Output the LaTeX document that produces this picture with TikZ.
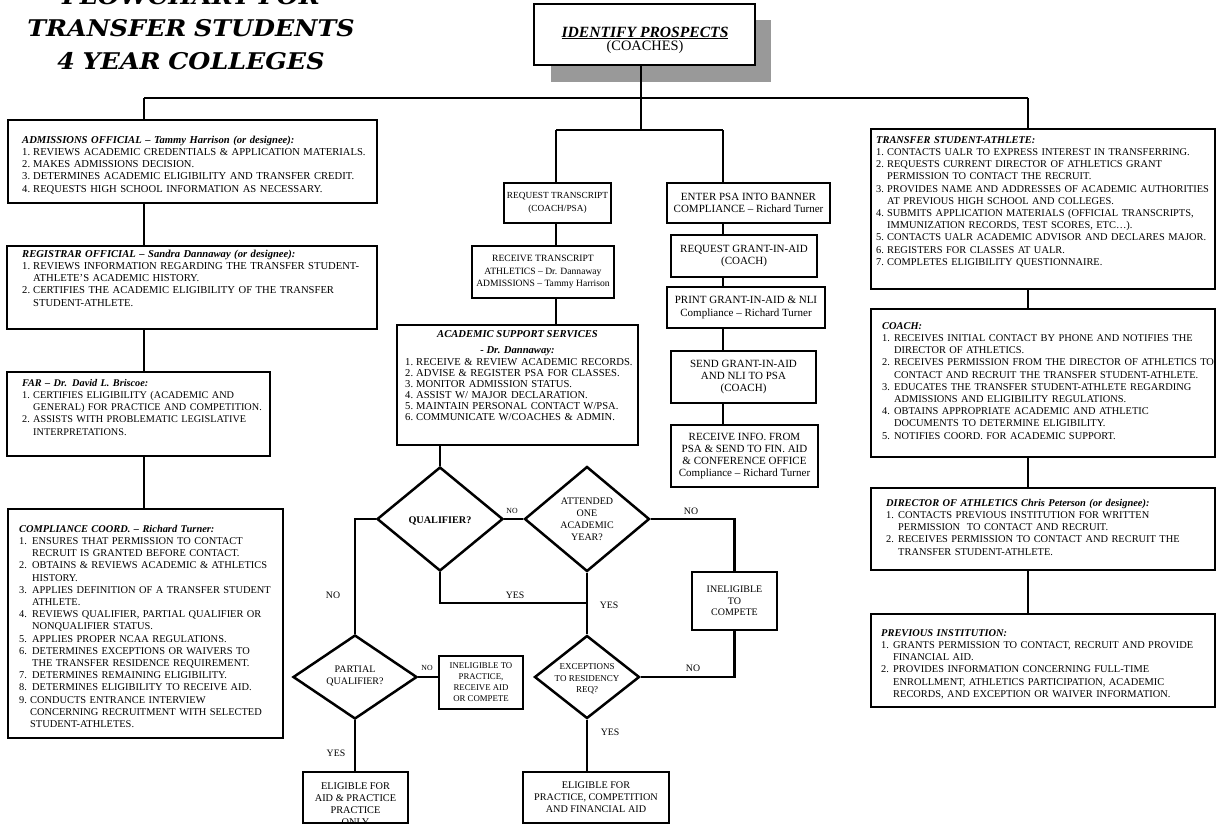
\documentclass[tikz,border=0pt]{standalone}
\usepackage{fontspec}
\setmainfont{Liberation Serif}
\newfontfamily\titlefont[FakeStretch=1.1]{DejaVu Serif}
\usetikzlibrary{shapes.geometric}

% first-line strut of fixed height, so a text block's top edge is its first baseline minus 8pt
\newcommand\fl{\rule{0pt}{8pt}}
\newlength\itmind
\newcommand\hd[1]{\noindent\fl\textbf{\textit{#1}}}
% numbered item with hanging indent; continuation lines are broken with \newline
\newcommand\itm[2]{\par\noindent\hangindent=\itmind\hangafter=1\makebox[\itmind][l]{#1}#2}
% rectangle node from its two corners
\newcommand\rect[6][]{\node[bx,#1,minimum width={#5-#3},minimum height={#6-#4}] (#2) at ({(#3+#5)/2},{(#4+#6)/2})}

\begin{document}
\begin{tikzpicture}[x=1pt,y=-1pt,
  bx/.style={draw,line width=2.6pt,inner sep=0pt,fill=white,align=center},
  conn/.style={line width=2.4pt},
  lst/.style={anchor=north west,inner sep=0pt,text width=345pt,align=left,font=\fontsize{10.6}{12.2}\selectfont},
  rlst/.style={lst,font=\fontsize{10.4}{12.2}\selectfont},
  mid/.style={font=\fontsize{9.3}{12.5}\selectfont},
  gia/.style={font=\fontsize{11}{12.5}\selectfont},
  dia/.style={draw,diamond,line width=2.5pt,inner sep=0pt,fill=white},
  dtxt/.style={inner sep=0pt,align=center},
  lab/.style={inner sep=0pt,font=\fontsize{9.8}{12}\selectfont},
  slab/.style={inner sep=0pt,font=\fontsize{7.8}{10}\selectfont}]
\clip (0,0) rectangle (1217,831);
\fill[white] (0,0) rectangle (1217,831);

% title
\node[anchor=north,inner sep=0pt,align=center,text width=420pt,
      font=\titlefont\bfseries\itshape\fontsize{23}{32.5}\selectfont] (title) at (191,-13)
  {\rule{0pt}{17pt}FLOWCHART FOR\\TRANSFER STUDENTS\\4 YEAR COLLEGES};

% top box with its drop shadow
\fill[gray!80] (551,20) rectangle (771,82);
\rect{top}{534}{4}{755}{65} {};
\node[inner sep=0pt,align=center,font=\fontsize{14.4}{13}\selectfont] (topT) at (645,40)
  {{\fontsize{15.6}{13}\selectfont\underline{\textbf{\textit{IDENTIFY PROSPECTS}}}}\\(COACHES)};

% left column
\rect{adm}{8}{120}{377}{203} {};
\rect{reg}{7}{246}{377}{329} {};
\rect{far}{7}{372}{270}{456} {};
\rect{cmp}{8}{509}{283}{738} {};

\node[lst] (admT) at (22,135) {\setlength\itmind{11pt}%
\hd{ADMISSIONS OFFICIAL – Tammy Harrison (or designee):}
\itm{1.}{REVIEWS ACADEMIC CREDENTIALS \& APPLICATION MATERIALS.}
\itm{2.}{MAKES ADMISSIONS DECISION.}
\itm{3.}{DETERMINES ACADEMIC ELIGIBILITY AND TRANSFER CREDIT.}
\itm{4.}{REQUESTS HIGH SCHOOL INFORMATION AS NECESSARY.}\par};

\node[lst] (regT) at (22,249) {\setlength\itmind{11pt}%
\hd{REGISTRAR OFFICIAL – Sandra Dannaway (or designee):}
\itm{1.}{REVIEWS INFORMATION REGARDING THE TRANSFER STUDENT-\newline ATHLETE’S ACADEMIC HISTORY.}
\itm{2.}{CERTIFIES THE ACADEMIC ELIGIBILITY OF THE TRANSFER\newline STUDENT-ATHLETE.}\par};

\node[lst,font=\fontsize{10.25}{12.2}\selectfont] (farT) at (22,378) {\setlength\itmind{11pt}%
\hd{FAR – Dr. David L. Briscoe:}
\itm{1.}{CERTIFIES ELIGIBILITY (ACADEMIC AND\newline GENERAL) FOR PRACTICE AND COMPETITION.}
\itm{2.}{ASSISTS WITH PROBLEMATIC LEGISLATIVE\newline INTERPRETATIONS.}\par};

\node[lst,font=\fontsize{10.4}{12.2}\selectfont] (cmpT) at (19,524) {\setlength\itmind{13pt}%
\hd{COMPLIANCE COORD. – Richard Turner:}
\itm{1.}{ENSURES THAT PERMISSION TO CONTACT\newline RECRUIT IS GRANTED BEFORE CONTACT.}
\itm{2.}{OBTAINS \& REVIEWS ACADEMIC \& ATHLETICS\newline HISTORY.}
\itm{3.}{APPLIES DEFINITION OF A TRANSFER STUDENT\newline ATHLETE.}
\itm{4.}{REVIEWS QUALIFIER, PARTIAL QUALIFIER OR\newline NONQUALIFIER STATUS.}
\itm{5.}{APPLIES PROPER NCAA REGULATIONS.}
\itm{6.}{DETERMINES EXCEPTIONS OR WAIVERS TO\newline THE TRANSFER RESIDENCE REQUIREMENT.}
\itm{7.}{DETERMINES REMAINING ELIGIBILITY.}
\itm{8.}{DETERMINES ELIGIBILITY TO RECEIVE AID.}
\par\setlength\itmind{11pt}%
\itm{9.}{CONDUCTS ENTRANCE INTERVIEW\newline CONCERNING RECRUITMENT WITH SELECTED\newline STUDENT-ATHLETES.}\par};

% right column
\rect{tsa}{871}{129}{1215}{289} {};
\rect{coach}{871}{309}{1215}{457} {};
\rect{dir}{871}{488}{1215}{570} {};
\rect{prev}{871}{614}{1215}{707} {};

\node[rlst] (tsaT) at (876,135) {\setlength\itmind{11pt}%
\hd{TRANSFER STUDENT-ATHLETE:}
\itm{1.}{CONTACTS UALR TO EXPRESS INTEREST IN TRANSFERRING.}
\itm{2.}{REQUESTS CURRENT DIRECTOR OF ATHLETICS GRANT\newline PERMISSION TO CONTACT THE RECRUIT.}
\itm{3.}{PROVIDES NAME AND ADDRESSES OF ACADEMIC AUTHORITIES\newline AT PREVIOUS HIGH SCHOOL AND COLLEGES.}
\itm{4.}{SUBMITS APPLICATION MATERIALS (OFFICIAL TRANSCRIPTS,\newline IMMUNIZATION RECORDS, TEST SCORES, ETC…).}
\itm{5.}{CONTACTS UALR ACADEMIC ADVISOR AND DECLARES MAJOR.}
\itm{6.}{REGISTERS FOR CLASSES AT UALR.}
\itm{7.}{COMPLETES ELIGIBILITY QUESTIONNAIRE.}\par};

\node[rlst] (coachT) at (882,321) {\setlength\itmind{12pt}%
\hd{COACH:}
\itm{1.}{RECEIVES INITIAL CONTACT BY PHONE AND NOTIFIES THE\newline DIRECTOR OF ATHLETICS.}
\itm{2.}{RECEIVES PERMISSION FROM THE DIRECTOR OF ATHLETICS TO\newline CONTACT AND RECRUIT THE TRANSFER STUDENT-ATHLETE.}
\itm{3.}{EDUCATES THE TRANSFER STUDENT-ATHLETE REGARDING\newline ADMISSIONS AND ELIGIBILITY REGULATIONS.}
\itm{4.}{OBTAINS APPROPRIATE ACADEMIC AND ATHLETIC\newline DOCUMENTS TO DETERMINE ELIGIBILITY.}
\itm{5.}{NOTIFIES COORD. FOR ACADEMIC SUPPORT.}\par};

\node[rlst] (dirT) at (886,498) {\setlength\itmind{12pt}%
\hd{DIRECTOR OF ATHLETICS Chris Peterson (or designee):}
\itm{1.}{CONTACTS PREVIOUS INSTITUTION FOR WRITTEN\newline PERMISSION\ \ TO CONTACT AND RECRUIT.}
\itm{2.}{RECEIVES PERMISSION TO CONTACT AND RECRUIT THE\newline TRANSFER STUDENT-ATHLETE.}\par};

\node[rlst] (prevT) at (881,628) {\setlength\itmind{12pt}%
\hd{PREVIOUS INSTITUTION:}
\itm{1.}{GRANTS PERMISSION TO CONTACT, RECRUIT AND PROVIDE\newline FINANCIAL AID.}
\itm{2.}{PROVIDES INFORMATION CONCERNING FULL-TIME\newline ENROLLMENT, ATHLETICS PARTICIPATION, ACADEMIC\newline RECORDS, AND EXCEPTION OR WAIVER INFORMATION.}\par};

% middle: transcript column
\rect[mid]{reqT}{504}{183}{611}{223} {REQUEST TRANSCRIPT\\(COACH/PSA)};
\rect[mid,font=\fontsize{9.6}{12.8}\selectfont]{recT}{472}{246}{614}{298} {RECEIVE TRANSCRIPT\\ATHLETICS – Dr. Dannaway\\ADMISSIONS – Tammy Harrison};
\rect{acad}{397}{325}{638}{445} {};
\node[inner sep=0pt,anchor=north,align=center,font=\fontsize{10.6}{12.2}\selectfont] (acadH) at (517.5,329)
  {\fl\textbf{\textit{ACADEMIC SUPPORT SERVICES}}\\[3.8pt]\textbf{\textit{- Dr. Dannaway:}}};
\node[lst,font=\fontsize{10.6}{11}\selectfont] (acadL) at (405,357) {\setlength\itmind{11pt}%
\noindent\fl\makebox[\itmind][l]{1.}RECEIVE \& REVIEW ACADEMIC RECORDS.
\itm{2.}{ADVISE \& REGISTER PSA FOR CLASSES.}
\itm{3.}{MONITOR ADMISSION STATUS.}
\itm{4.}{ASSIST W/ MAJOR DECLARATION.}
\itm{5.}{MAINTAIN PERSONAL CONTACT W/PSA.}
\itm{6.}{COMMUNICATE W/COACHES \& ADMIN.}\par};

% middle: grant-in-aid column
\rect[gia]{enter}{667}{183}{830}{223} {ENTER PSA INTO BANNER\\COMPLIANCE – Richard Turner};
\rect[gia]{rga}{671}{235}{817}{277} {REQUEST GRANT-IN-AID\\(COACH)};
\rect[gia]{prt}{667}{287}{825}{328} {PRINT GRANT-IN-AID \& NLI\\Compliance – Richard Turner};
\rect[gia,font=\fontsize{11}{12}\selectfont]{snd}{671}{351}{816}{403} {SEND GRANT-IN-AID\\AND NLI TO PSA\\(COACH)};
\rect[gia,font=\fontsize{11}{12}\selectfont]{rif}{671}{425}{818}{487} {RECEIVE INFO. FROM\\PSA \& SEND TO FIN. AID\\\& CONFERENCE OFFICE\\Compliance – Richard Turner};

% decisions
\node[dia,minimum width=126,minimum height=104] (q1) at (440,519) {};
\node[dia,minimum width=125,minimum height=105] (q2) at (587,519) {};
\node[dia,minimum width=124,minimum height=84] (q4) at (355,677) {};
\node[dia,minimum width=105,minimum height=83] (q3) at (587,677) {};
\node[dtxt,font=\fontsize{10.2}{12}\selectfont] (q1t) at (440,521) {\textbf{QUALIFIER?}};
\node[dtxt,font=\fontsize{10}{12}\selectfont] (q2t) at (587,519) {ATTENDED\\ONE\\ACADEMIC\\YEAR?};
\node[dtxt,font=\fontsize{10}{12.5}\selectfont] (q4t) at (355,676) {PARTIAL\\QUALIFIER?};
\node[dtxt,font=\fontsize{9}{11.5}\selectfont] (q3t) at (587,679) {EXCEPTIONS\\TO RESIDENCY\\REQ?};

% outcomes
\rect[font=\fontsize{10}{11.5}\selectfont]{ineC}{692}{572}{777}{630} {INELIGIBLE\\TO\\COMPETE};
\rect[font=\fontsize{8.8}{11}\selectfont]{ineP}{439}{656}{523}{709} {INELIGIBLE TO\\PRACTICE,\\RECEIVE AID\\OR COMPETE};
\rect[font=\fontsize{10.2}{12}\selectfont]{eligP}{523}{772}{669}{823} {ELIGIBLE FOR\\PRACTICE, COMPETITION\\AND FINANCIAL AID};
\rect{eligA}{303}{772}{408}{823} {};
\begin{scope}
  % the last line runs into the lower edge of the box
  \clip (304,773) rectangle (407,821.7);
  \node[anchor=north,inner sep=0pt,align=center,font=\fontsize{10.3}{12}\selectfont] (eligAT) at (355.5,781)
    {\fl ELIGIBLE FOR\\AID \& PRACTICE\\PRACTICE\\ONLY};
\end{scope}

% connectors
\coordinate (hL) at (144,98);
\coordinate (hR) at (1028,98);
\coordinate (hC) at (641,98);
\coordinate (bC) at (641,130);
\coordinate (bL) at (556,130);
\coordinate (bR) at (723,130);
\coordinate (jY) at (587,603);

\draw[conn] (top.south -| hC) -- (hC);
\draw[conn] (hL) -- (hR);
\draw[conn] (hL) -- (hL |- adm.north);
\draw[conn] (hL |- adm.south) -- (hL |- reg.north);
\draw[conn] (hL |- reg.south) -- (hL |- far.north);
\draw[conn] (hL |- far.south) -- (hL |- cmp.north);
\draw[conn] (hR) -- (hR |- tsa.north);
\draw[conn] (hR |- tsa.south) -- (hR |- coach.north);
\draw[conn] (hR |- coach.south) -- (hR |- dir.north);
\draw[conn] (hR |- dir.south) -- (hR |- prev.north);
\draw[conn] (hC) -- (bC);
\draw[conn] (bL) -- (bR);
\draw[conn] (bL) -- (bL |- reqT.north);
\draw[conn] (bL |- reqT.south) -- (bL |- recT.north);
\draw[conn] (bL |- recT.south) -- (bL |- acad.north);
\draw[conn] (bR) -- (bR |- enter.north);
\draw[conn] (bR |- enter.south) -- (bR |- rga.north);
\draw[conn] (bR |- rga.south) -- (bR |- prt.north);
\draw[conn] (bR |- prt.south) -- (bR |- snd.north);
\draw[conn] (bR |- snd.south) -- (bR |- rif.north);
\draw[conn] (q1.north |- acad.south) -- (q1.north);
\draw[conn] (q1.east) -- (q2.west);
\draw[conn] (q2.east) -| (ineC.north);
\draw[conn] (q1.south) |- (jY);
\draw[conn] (q2.south) -- (q3.north);
\draw[conn] (q1.west) -| (q4.north);
\draw[conn] (q4.east) -- (q4.east -| ineP.west);
\draw[conn] (q4.south) -- (q4.south |- eligA.north);
\draw[conn] (ineC.south) |- (q3.east);
\draw[conn] (q3.south) -- (q3.south |- eligP.north);

% branch labels
\node[slab] (n1) at (512,511) {NO};
\node[lab] (n2) at (691,511) {NO};
\node[lab] (n3) at (333,595) {NO};
\node[lab] (y1) at (515,595) {YES};
\node[lab] (y2) at (609,605) {YES};
\node[slab] (n4) at (427,668) {NO};
\node[lab] (n5) at (693,668) {NO};
\node[lab] (y3) at (336,753) {YES};
\node[lab] (y4) at (610,732) {YES};
\end{tikzpicture}
\end{document}
